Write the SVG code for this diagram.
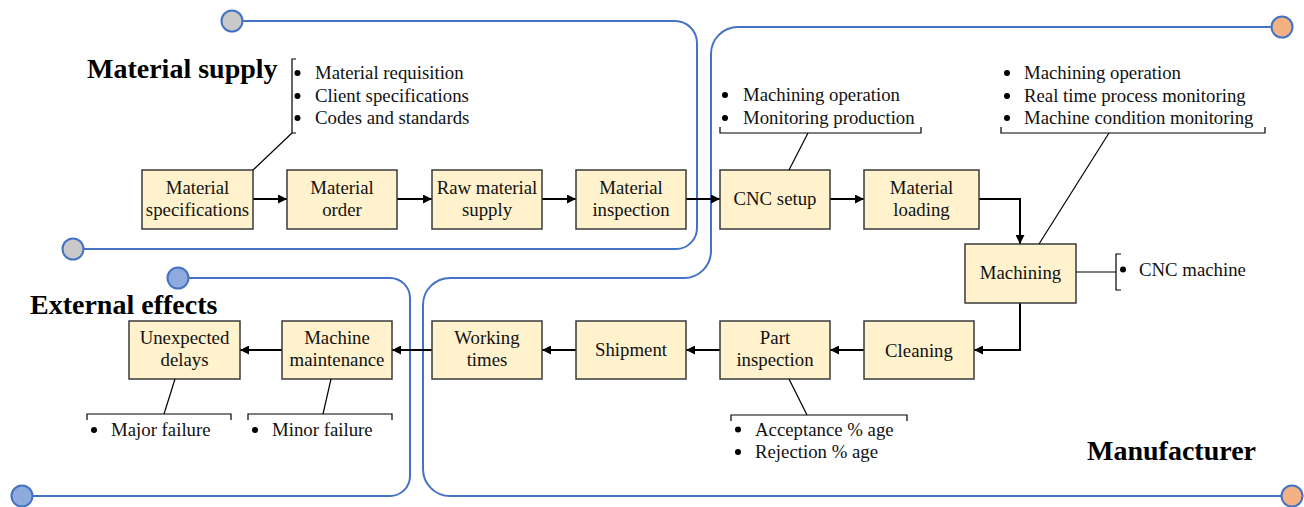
<svg xmlns="http://www.w3.org/2000/svg" width="1304" height="507" viewBox="0 0 1304 507">
  <style>
    .lane { fill: none; stroke: #4472c4; stroke-width: 2; }
    .dot { stroke: #4472c4; stroke-width: 2; }
    .box { fill: #fff2cc; stroke: #3a3a3a; stroke-width: 1.5; }
    .lbl { font-family: "Liberation Serif", "Times New Roman", serif; font-size: 18.8px; fill: #111; }
    .mid { text-anchor: middle; }
    .title { font-family: "Liberation Serif", "Times New Roman", serif; font-size: 28px; font-weight: bold; fill: #000; }
    .flow { fill: none; stroke: #000; stroke-width: 2; marker-end: url(#head); }
    .note { fill: none; stroke: #000; stroke-width: 1.2; }
    .bul { fill: #000; }
  </style>
  <defs>
    <marker id="head" viewBox="0 0 10 10" refX="10" refY="5" markerWidth="9" markerHeight="9" markerUnits="userSpaceOnUse" orient="auto">
      <path d="M0,0 L10,5 L0,10 z" fill="#000"/>
    </marker>
  </defs>

  <!-- swim-lane outlines -->
  <g id="lanes">
    <path class="lane" d="M242 21 H675 A22 22 0 0 1 697 43 V228 A21 21 0 0 1 676 249 H83"/>
    <circle class="dot" cx="232" cy="21" r="10.5" fill="#c9c9c9"/>
    <circle class="dot" cx="73" cy="249" r="10.5" fill="#c9c9c9"/>

    <path class="lane" d="M1271 27 H738 A27 27 0 0 0 711 54 V251 A27 27 0 0 1 684 278 H450 A27 27 0 0 0 423 305 V469 A27 27 0 0 0 450 496 H1281"/>
    <circle class="dot" cx="1282" cy="27" r="10.5" fill="#f4b183"/>
    <circle class="dot" cx="1292" cy="496" r="10.5" fill="#f4b183"/>

    <path class="lane" d="M189 278 H390 A20 20 0 0 1 410 298 V476 A20 20 0 0 1 390 496 H33"/>
    <circle class="dot" cx="178" cy="278" r="10.5" fill="#8faadc"/>
    <circle class="dot" cx="22" cy="496" r="10.5" fill="#8faadc"/>
  </g>

  <!-- lane titles -->
  <g id="titles">
    <text class="title" x="87" y="78">Material supply</text>
    <text class="title" x="30" y="314">External effects</text>
    <text class="title" x="1087" y="460">Manufacturer</text>
  </g>

  <!-- process connectors -->
  <g id="connectors">
    <path class="flow" d="M253 199 H287"/>
    <path class="flow" d="M397 199 H432"/>
    <path class="flow" d="M542 199 H576"/>
    <path class="flow" d="M686 199 H720"/>
    <path class="flow" d="M830 199 H864"/>
    <path class="flow" d="M979 199 H1020 V244"/>
    <path class="flow" d="M1020 303 V350 H974"/>
    <path class="flow" d="M864 350 H830"/>
    <path class="flow" d="M720 350 H686"/>
    <path class="flow" d="M576 350 H542"/>
    <path class="flow" d="M432 350 H392"/>
    <path class="flow" d="M282 350 H240"/>
  </g>

  <!-- process steps -->
  <g id="material-specifications">
    <rect class="box" x="142" y="170" width="111" height="59"/>
    <text class="lbl mid" x="197.5" y="194">Material</text>
    <text class="lbl mid" x="197.5" y="216">specifications</text>
  </g>
  <g id="material-order">
    <rect class="box" x="287" y="170" width="110" height="59"/>
    <text class="lbl mid" x="342" y="194">Material</text>
    <text class="lbl mid" x="342" y="216">order</text>
  </g>
  <g id="raw-material-supply">
    <rect class="box" x="432" y="170" width="110" height="59"/>
    <text class="lbl mid" x="487" y="194">Raw material</text>
    <text class="lbl mid" x="487" y="216">supply</text>
  </g>
  <g id="material-inspection">
    <rect class="box" x="576" y="170" width="110" height="59"/>
    <text class="lbl mid" x="631" y="194">Material</text>
    <text class="lbl mid" x="631" y="216">inspection</text>
  </g>
  <g id="cnc-setup">
    <rect class="box" x="720" y="170" width="110" height="59"/>
    <text class="lbl mid" x="775" y="205">CNC setup</text>
  </g>
  <g id="material-loading">
    <rect class="box" x="864" y="170" width="115" height="59"/>
    <text class="lbl mid" x="921.5" y="194">Material</text>
    <text class="lbl mid" x="921.5" y="216">loading</text>
  </g>
  <g id="machining">
    <rect class="box" x="965" y="244" width="111" height="59"/>
    <text class="lbl mid" x="1020.5" y="279">Machining</text>
  </g>
  <g id="cleaning">
    <rect class="box" x="864" y="321" width="110" height="58"/>
    <text class="lbl mid" x="919" y="357">Cleaning</text>
  </g>
  <g id="part-inspection">
    <rect class="box" x="720" y="321" width="110" height="58"/>
    <text class="lbl mid" x="775" y="344">Part</text>
    <text class="lbl mid" x="775" y="366">inspection</text>
  </g>
  <g id="shipment">
    <rect class="box" x="576" y="321" width="110" height="58"/>
    <text class="lbl mid" x="631" y="356">Shipment</text>
  </g>
  <g id="working-times">
    <rect class="box" x="432" y="321" width="110" height="58"/>
    <text class="lbl mid" x="487" y="344">Working</text>
    <text class="lbl mid" x="487" y="366">times</text>
  </g>
  <g id="machine-maintenance">
    <rect class="box" x="282" y="321" width="110" height="58"/>
    <text class="lbl mid" x="337" y="344">Machine</text>
    <text class="lbl mid" x="337" y="366">maintenance</text>
  </g>
  <g id="unexpected-delays">
    <rect class="box" x="129" y="321" width="111" height="58"/>
    <text class="lbl mid" x="184.5" y="344">Unexpected</text>
    <text class="lbl mid" x="184.5" y="366">delays</text>
  </g>

  <!-- bullet annotations -->
  <g id="note-material-specifications">
    <path class="note" d="M253 170 L292 133"/>
    <path class="note" d="M296 59 H292 V133 H296"/>
    <circle class="bul" cx="297.5" cy="73" r="3"/>
    <circle class="bul" cx="297.5" cy="96" r="3"/>
    <circle class="bul" cx="297.5" cy="118" r="3"/>
    <text class="lbl" x="315" y="79">Material requisition</text>
    <text class="lbl" x="315" y="101.5">Client specifications</text>
    <text class="lbl" x="315" y="124">Codes and standards</text>
  </g>
  <g id="note-cnc-setup">
    <path class="note" d="M789 170 L808 133"/>
    <path class="note" d="M720 127 V133 H921 V127"/>
    <circle class="bul" cx="725" cy="95" r="3"/>
    <circle class="bul" cx="725" cy="118" r="3"/>
    <text class="lbl" x="743" y="101">Machining operation</text>
    <text class="lbl" x="743" y="123.5">Monitoring production</text>
  </g>
  <g id="note-machining">
    <path class="note" d="M1039 244 L1109 133"/>
    <path class="note" d="M1001 127 V133 H1265 V127"/>
    <circle class="bul" cx="1007" cy="73" r="3"/>
    <circle class="bul" cx="1007" cy="96" r="3"/>
    <circle class="bul" cx="1007" cy="118" r="3"/>
    <text class="lbl" x="1024" y="79">Machining operation</text>
    <text class="lbl" x="1024" y="101.5">Real time process monitoring</text>
    <text class="lbl" x="1024" y="124">Machine condition monitoring</text>
  </g>
  <g id="note-cnc-machine">
    <path class="note" d="M1076 272 H1116"/>
    <path class="note" d="M1121 254 H1116 V290 H1121"/>
    <circle class="bul" cx="1123" cy="269.5" r="3"/>
    <text class="lbl" x="1139" y="275.5">CNC machine</text>
  </g>
  <g id="note-part-inspection">
    <path class="note" d="M789 379 L807 415"/>
    <path class="note" d="M731 421 V415 H907 V421"/>
    <circle class="bul" cx="738" cy="429.5" r="3"/>
    <circle class="bul" cx="738" cy="452" r="3"/>
    <text class="lbl" x="755" y="435.5">Acceptance % age</text>
    <text class="lbl" x="755" y="458">Rejection % age</text>
  </g>
  <g id="note-unexpected-delays">
    <path class="note" d="M175 379 L164 414"/>
    <path class="note" d="M87 420 V414 H231 V420"/>
    <circle class="bul" cx="94" cy="430" r="3"/>
    <text class="lbl" x="111" y="436">Major failure</text>
  </g>
  <g id="note-machine-maintenance">
    <path class="note" d="M331 379 L323 414"/>
    <path class="note" d="M248 420 V414 H392 V420"/>
    <circle class="bul" cx="255" cy="430" r="3"/>
    <text class="lbl" x="272" y="436">Minor failure</text>
  </g>
</svg>
